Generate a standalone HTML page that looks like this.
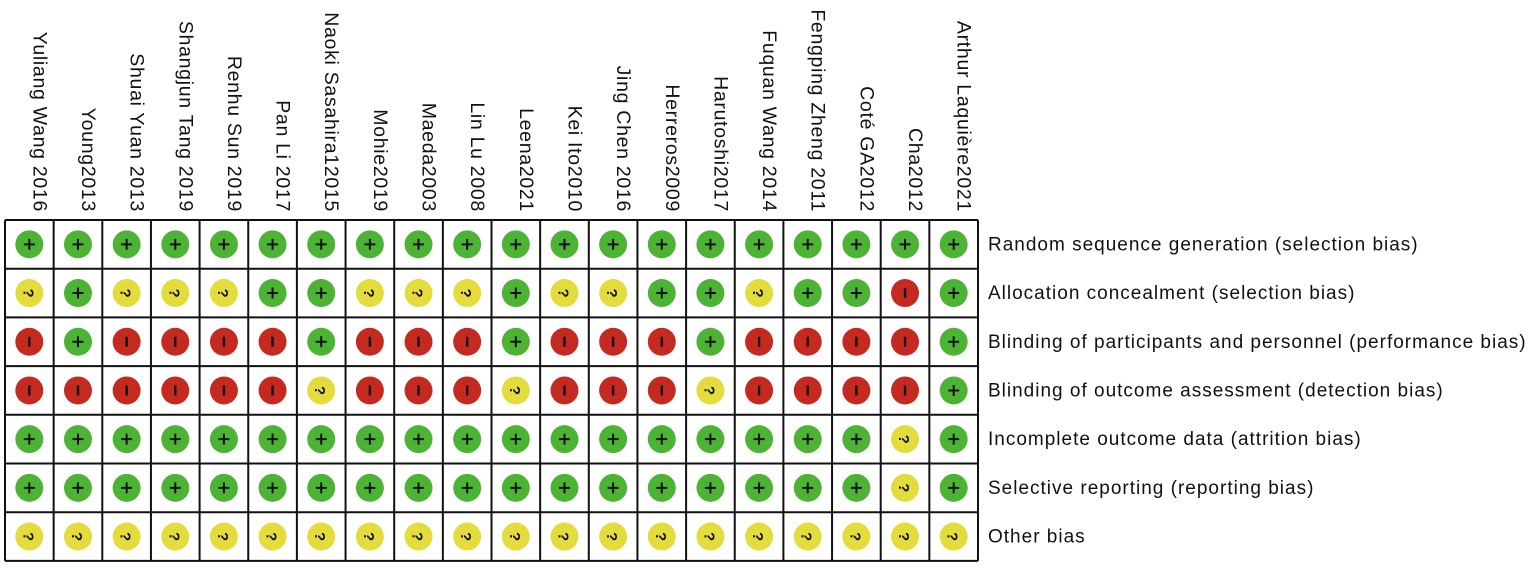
<!DOCTYPE html>
<html><head><meta charset="utf-8"><style>
html,body{margin:0;padding:0;background:#fff;}
svg{display:block;font-family:"Liberation Sans","DejaVu Sans",sans-serif;}
</style></head><body>
<svg id="chart" width="1535" height="568" viewBox="0 0 1535 568"></svg>
<script>
const studies=["Yuliang Wang 2016","Young2013","Shuai Yuan 2013","Shangjun Tang 2019","Renhu Sun 2019","Pan Li 2017","Naoki Sasahira12015","Mohie2019","Maeda2003","Lin Lu 2008","Leena2021","Kei Ito2010","Jing Chen 2016","Herreros2009","Harutoshi2017","Fuquan Wang 2014","Fengping Zheng 2011","Coté GA2012","Cha2012","Arthur Laquière2021"];
const domains=["Random sequence generation (selection bias)","Allocation concealment (selection bias)","Blinding of participants and personnel (performance bias)","Blinding of outcome assessment (detection bias)","Incomplete outcome data (attrition bias)","Selective reporting (reporting bias)","Other bias"];
const judgements=[
"++++++++++++++++++++",
"?+???++???+??++?++-+",
"-+----+---+---+----+",
"------?---?---?----+",
"++++++++++++++++++?+",
"++++++++++++++++++?+",
"????????????????????"
];
const NS="http://www.w3.org/2000/svg";
const svg=document.getElementById('chart');
const x0=5,y0=220,cw=48.65,rh=48.7;
function colX(i){return x0+i*cw;}
function rowY(j){return y0+j*rh;}
function mk(t,a){const e=document.createElementNS(NS,t);for(const k in a)e.setAttribute(k,a[k]);svg.appendChild(e);return e;}
const colors={"+":"#4db335","?":"#e3dc3c","-":"#c42a20"};
studies.forEach((s,i)=>{
  const cx=colX(i)+cw/2+4;
  const t=mk('text',{x:0,y:0,transform:`translate(${cx},212) rotate(90)`,'text-anchor':'end','font-size':19.5,'letter-spacing':0.7,fill:'#111'});
  t.textContent=s;
  
  
});
domains.forEach((d,j)=>{
  const t=mk('text',{x:988,y:rowY(j)+rh/2+6,'font-size':19,'letter-spacing':1.0,fill:'#111'});
  t.textContent=d;
  
  
});
judgements.forEach((row,j)=>{
  for(let i=0;i<studies.length;i++){
    const v=row[i];
    const cx=colX(i)+cw/2, cy=rowY(j)+rh/2;
    const c=mk('circle',{cx:cx,cy:cy,r:14,fill:colors[v]});
    
    
    if(v==='+'){
      mk('path',{d:`M${cx-5.5} ${cy}H${cx+5.5}M${cx} ${cy-5.5}V${cy+5.5}`,stroke:'#111','stroke-width':2});
    }else if(v==='-'){
      mk('path',{d:`M${cx} ${cy-5}V${cy+5}`,stroke:'#111','stroke-width':2.4});
    }else{
      const q=mk('text',{x:0,y:0,transform:`translate(${cx-6},${cy}) rotate(90)`,'text-anchor':'middle','font-size':15,'font-weight':'bold',fill:'#111'});
      q.textContent='?';
    }
  }
});
for(let i=0;i<=studies.length;i++){
  mk('line',{x1:colX(i),y1:y0,x2:colX(i),y2:rowY(7),stroke:'#111','stroke-width':2});
}
for(let j=0;j<=domains.length;j++){
  mk('line',{x1:x0,y1:rowY(j),x2:colX(20),y2:rowY(j),stroke:'#111','stroke-width':2});
}
</script>
</body></html>
